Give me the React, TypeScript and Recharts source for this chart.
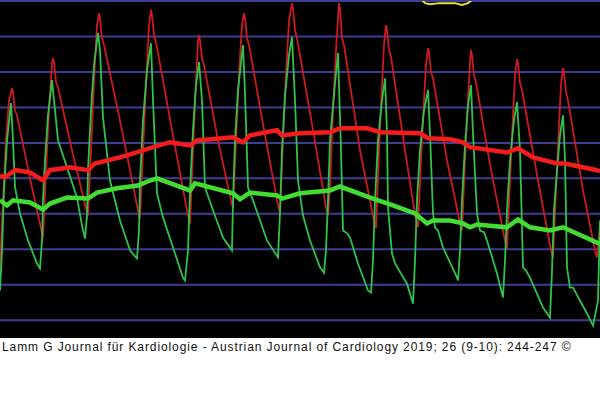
import { LineChart, Line, XAxis, YAxis, ReferenceLine } from "recharts";

// time index (0-600) and pressure level (grid every 10 units)
const redWave: [number, number][] = [
  [0, 19.0], [3, 38.8], [6, 55.7], [9, 67.0], [12, 70.4], [13, 69.3], [15, 64.2], [17, 62.8], [30, 45.0], [41, 30.9], [43, 28.3],
  [46, 47.3], [49, 64.2], [52, 77.2], [53, 78.9], [54, 77.8], [56, 72.1], [58, 70.7], [72, 52.9], [86, 36.5], [88, 34.5],
  [91, 52.9], [94, 72.7], [97, 88.2], [99, 91.6], [100, 90.2], [102, 84.5], [104, 82.6], [122, 58.6], [138, 36.0], [140, 33.7],
  [143, 52.9], [146, 71.3], [149, 88.2], [151, 92.5], [152, 91.0], [154, 85.4], [156, 83.4], [172, 58.6], [188, 34.5], [190, 32.3],
  [193, 52.9], [196, 72.7], [198, 83.4], [199, 85.4], [200, 84.0], [202, 78.9], [204, 76.9], [218, 55.7], [231, 38.8], [233, 36.5],
  [236, 55.7], [239, 74.1], [242, 88.2], [244, 91.6], [245, 90.2], [247, 84.5], [249, 82.6], [265, 57.1], [278, 37.4], [280, 35.4],
  [283, 55.7], [286, 74.1], [289, 89.6], [292, 94.4], [293, 93.0], [295, 86.8], [297, 84.5], [313, 58.6], [326, 36.8], [328, 34.5],
  [330, 42.5], [333, 64.2], [336, 81.2], [339, 94.4], [340, 93.0], [342, 84.5], [344, 82.6], [360, 52.9], [374, 33.1], [376, 30.9],
  [379, 52.9], [382, 71.3], [384, 82.6], [386, 88.2], [387, 86.8], [389, 81.2], [391, 79.2], [405, 52.9], [416, 33.1], [418, 31.2],
  [421, 50.1], [424, 67.0], [426, 76.9], [428, 81.7], [429, 80.6], [431, 75.0], [433, 73.2], [447, 50.1], [460, 32.3], [462, 30.3],
  [465, 50.1], [468, 67.0], [470, 77.8], [471, 81.2], [472, 79.7], [474, 74.1], [476, 72.1], [491, 47.3], [505, 27.5], [507, 25.2],
  [510, 44.4], [513, 62.8], [515, 74.1], [517, 78.6], [518, 77.5], [520, 71.8], [522, 69.9], [538, 44.4], [551, 24.7], [553, 22.7],
  [556, 41.6], [559, 60.0], [561, 71.3], [563, 76.1], [564, 75.0], [566, 69.3], [568, 67.0], [583, 41.6], [595, 24.7], [597, 22.7],
  [600, 31.7],
];

const greenWave: [number, number][] = [
  [0, 13.4], [2, 24.7], [4, 41.6], [7, 55.7], [11, 66.2], [13, 55.7], [15, 42.5], [20, 35.1], [28, 27.5], [37, 21.0], [40, 19.6],
  [42, 27.5], [43, 38.8], [45, 50.1], [48, 62.8], [52, 72.7], [54, 67.0], [58, 55.7], [67, 48.1], [77, 39.6], [82, 31.7], [85, 28.0],
  [87, 34.5], [88, 47.3], [91, 64.2], [94, 76.9], [98, 86.0], [100, 81.2], [103, 62.2], [110, 44.4], [120, 33.1], [130, 24.7], [137, 22.4],
  [139, 30.3], [140, 44.4], [143, 61.4], [147, 75.5], [151, 83.1], [153, 67.0], [157, 40.8], [163, 34.0], [173, 25.5], [183, 17.0], [185, 16.2],
  [188, 24.7], [190, 41.6], [193, 58.6], [196, 71.3], [199, 77.8], [202, 67.0], [205, 42.5], [212, 36.8], [223, 28.3], [232, 24.7],
  [233, 38.8], [235, 55.7], [238, 69.9], [243, 82.6], [245, 69.0], [248, 42.5], [253, 38.8], [267, 27.5], [278, 22.7],
  [280, 35.4], [282, 52.9], [285, 68.4], [289, 79.7], [292, 84.8], [295, 67.0], [298, 44.4], [303, 34.5], [310, 27.5], [320, 19.9], [324, 18.4],
  [326, 24.7], [328, 38.8], [330, 55.7], [335, 71.8], [338, 80.3], [341, 52.9], [343, 30.3], [347, 29.5], [350, 28.3], [358, 21.0], [368, 13.4], [371, 12.8],
  [373, 21.8], [375, 38.8], [378, 55.7], [382, 67.0], [385, 73.2], [387, 57.7], [388, 36.8], [392, 23.8], [395, 21.0], [407, 15.3], [413, 9.7],
  [415, 21.8], [417, 38.8], [420, 52.9], [424, 64.2], [428, 69.9], [430, 57.7], [433, 35.1], [435, 31.2], [438, 30.3], [443, 25.5], [450, 21.3], [457, 17.0], [458, 16.2],
  [460, 24.7], [462, 38.8], [465, 54.3], [468, 65.6], [471, 71.3], [473, 57.7], [477, 35.1], [480, 30.3], [484, 29.8], [487, 27.5], [497, 18.2], [503, 11.4],
  [505, 21.8], [507, 36.0], [510, 50.1], [514, 61.4], [517, 66.5], [520, 52.9], [523, 19.9], [526, 19.0], [530, 17.0], [543, 8.6], [550, 5.7],
  [552, 19.0], [554, 36.0], [557, 47.3], [560, 57.1], [563, 62.8], [565, 50.1], [567, 19.9], [570, 14.2], [573, 14.2], [587, 6.9], [593, 3.5],
  [598, 10.5], [600, 33.1],
];

const redMean: [number, number][] = [
  [0, 45.8], [5, 45.3], [15, 47.3], [30, 46.7], [43, 44.4], [50, 47.3], [70, 48.1], [88, 47.3], [95, 49.2], [120, 50.9],
  [140, 52.6], [150, 53.5], [170, 55.2], [190, 54.3], [197, 55.7], [233, 56.6], [243, 55.2], [250, 57.1], [277, 58.6], [282, 57.1],
  [300, 57.7], [330, 58.0], [340, 59.1], [367, 59.1], [380, 58.0], [420, 57.7], [428, 56.3], [450, 56.0], [462, 55.2], [470, 53.8],
  [507, 52.3], [518, 53.5], [533, 50.9], [557, 49.2], [565, 49.2], [597, 47.3], [600, 47.0],
];

const greenMean: [number, number][] = [
  [0, 38.8], [7, 37.4], [13, 38.8], [30, 38.2], [43, 36.2], [50, 37.9], [67, 39.6], [88, 39.3], [97, 41.0], [117, 42.2],
  [138, 43.0], [150, 44.4], [157, 45.0], [190, 41.6], [195, 43.6], [233, 40.8], [240, 39.1], [250, 41.0], [277, 40.2], [282, 39.3],
  [300, 40.8], [330, 41.6], [340, 42.7], [373, 39.3], [393, 37.4], [415, 35.1], [427, 32.3], [433, 33.1], [450, 33.1], [463, 32.3],
  [470, 31.2], [477, 32.0], [507, 31.2], [518, 33.4], [530, 31.2], [550, 30.3], [563, 31.2], [597, 26.9], [600, 26.6],
];

// yellow label outline cut off at the top edge
const yellowMark: [number, number][] = [
  [422, 95.3], [425, 94.4], [430, 94.1], [440, 94.4], [455, 94.4], [462, 93.9], [468, 94.4], [472, 95.3],
];

const gridLevels = [5, 15, 25, 35, 45, 55, 65, 75, 85, 95];

const toRows = (pts: [number, number][]) => pts.map(([t, v]) => ({ t, v }));

export default function App() {
  return (
    <div style={{ position: "absolute", left: 0, top: 0, width: 600, height: 398, background: "#fff" }}>
      <div style={{ width: 600, height: 338, background: "#000" }}>
        <LineChart width={600} height={338} margin={{ top: 1, right: 0, bottom: 0, left: 0 }}>
          <XAxis dataKey="t" type="number" domain={[0, 600]} hide allowDataOverflow />
          <YAxis type="number" domain={[0, 95]} hide allowDataOverflow />
          {gridLevels.map((g) => (
            <ReferenceLine key={g} y={g} stroke="#3d3d94" strokeWidth={2} ifOverflow="extendDomain" />
          ))}
          <Line data={toRows(redWave)} dataKey="v" type="linear" stroke="#cc1a20" strokeWidth={1.8} dot={false} isAnimationActive={false} />
          <Line data={toRows(greenWave)} dataKey="v" type="linear" stroke="#2fc24a" strokeWidth={1.8} dot={false} isAnimationActive={false} />
          <Line data={toRows(greenMean)} dataKey="v" type="linear" stroke="#43dc33" strokeWidth={4.5} dot={false} isAnimationActive={false} />
          <Line data={toRows(redMean)} dataKey="v" type="linear" stroke="#f41c1c" strokeWidth={4.5} dot={false} isAnimationActive={false} />
          <Line data={toRows(yellowMark)} dataKey="v" type="linear" stroke="#e8e030" strokeWidth={2} dot={false} isAnimationActive={false} />
        </LineChart>
      </div>
      <div
        style={{
          position: "absolute",
          left: 2,
          top: 340,
          fontFamily: "'Liberation Sans', Arial, sans-serif",
          fontSize: 12,
          lineHeight: "14px",
          color: "#111",
          whiteSpace: "nowrap",
          letterSpacing: 0.9,
        }}
      >
        Lamm G Journal für Kardiologie - Austrian Journal of Cardiology 2019; 26 (9-10): 244-247 ©
      </div>
    </div>
  );
}
